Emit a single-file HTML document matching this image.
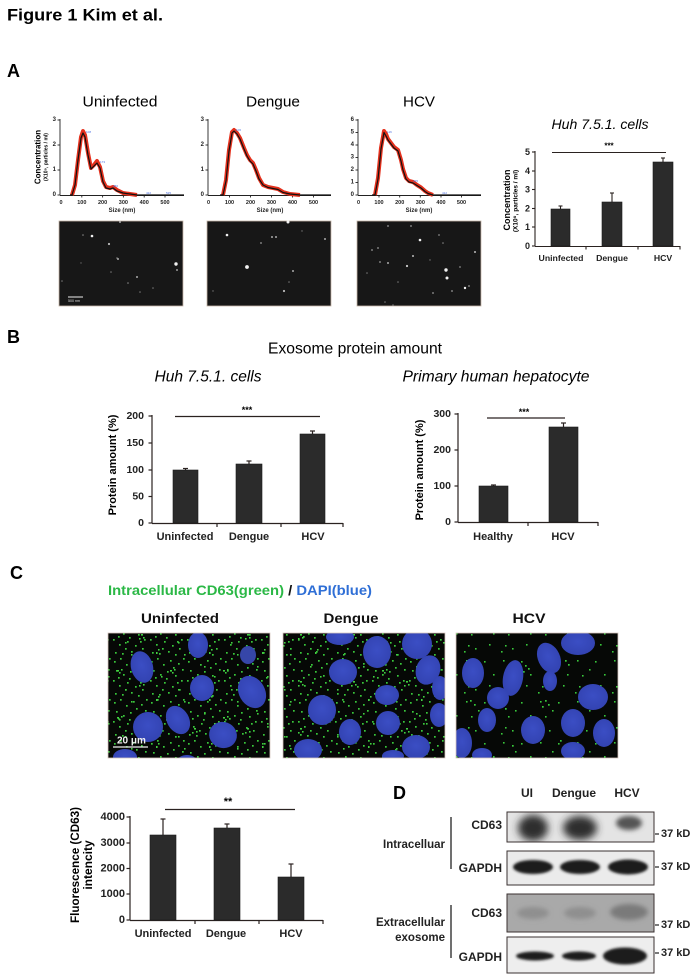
<!DOCTYPE html>
<html>
<head>
<meta charset="utf-8">
<style>
  html,body{margin:0;padding:0;background:#fff;}
  svg{display:block;}
  text{font-family:"Liberation Sans",Arial,sans-serif;}
</style>
</head>
<body>
<svg width="700" height="980" viewBox="0 0 700 980" xmlns="http://www.w3.org/2000/svg">
<defs>
  <pattern id="gd" x="0" y="0" width="37" height="41" patternUnits="userSpaceOnUse">
    <g fill="#38c83a">
      <rect x="3" y="5" width="1.7" height="1.7"/><rect x="9" y="2" width="1.7" height="1.7"/>
      <rect x="15" y="8" width="1.7" height="1.7"/><rect x="22" y="4" width="1.7" height="1.7"/>
      <rect x="30" y="7" width="1.7" height="1.7"/><rect x="34" y="13" width="1.7" height="1.7"/>
      <rect x="5" y="14" width="1.7" height="1.7"/><rect x="12" y="18" width="1.7" height="1.7"/>
      <rect x="19" y="15" width="1.7" height="1.7"/><rect x="27" y="19" width="1.7" height="1.7"/>
      <rect x="33" y="24" width="1.7" height="1.7"/><rect x="2" y="24" width="1.7" height="1.7"/>
      <rect x="8" y="29" width="1.7" height="1.7"/><rect x="16" y="26" width="1.7" height="1.7"/>
      <rect x="24" y="30" width="1.7" height="1.7"/><rect x="31" y="33" width="1.7" height="1.7"/>
      <rect x="4" y="37" width="1.7" height="1.7"/><rect x="11" y="38" width="1.7" height="1.7"/>
      <rect x="20" y="36" width="1.7" height="1.7"/><rect x="27" y="39" width="1.7" height="1.7"/>
      <rect x="35" y="2" width="1.7" height="1.7"/><rect x="14" y="33" width="1.7" height="1.7"/>
      <rect x="25" y="11" width="1.7" height="1.7"/><rect x="7" y="21" width="1.7" height="1.7"/>
      <rect x="18" y="22" width="1.7" height="1.7"/><rect x="29" y="26" width="1.7" height="1.7"/>
    </g>
  </pattern>
  <pattern id="gd2" x="5" y="3" width="53" height="47" patternUnits="userSpaceOnUse">
    <g fill="#40d040">
      <rect x="6" y="9" width="2" height="1.6"/><rect x="8" y="11" width="1.6" height="1.6"/>
      <rect x="10" y="8" width="1.6" height="1.6"/><rect x="30" y="20" width="2" height="1.6"/>
      <rect x="32" y="23" width="1.6" height="1.6"/><rect x="28" y="24" width="1.6" height="1.6"/>
      <rect x="45" y="38" width="1.6" height="2"/><rect x="47" y="35" width="1.6" height="1.6"/>
      <rect x="20" y="40" width="1.6" height="1.6"/><rect x="40" y="5" width="1.6" height="1.6"/>
      <rect x="14" y="28" width="1.6" height="1.6"/><rect x="50" y="15" width="1.6" height="1.6"/>
    </g>
  </pattern>
  <pattern id="gs" x="0" y="0" width="37" height="41" patternUnits="userSpaceOnUse">
    <g fill="#38c83a">
      <rect x="3" y="5" width="1.6" height="1.6"/><rect x="22" y="4" width="1.6" height="1.6"/>
      <rect x="34" y="13" width="1.6" height="1.6"/><rect x="12" y="18" width="1.6" height="1.6"/>
      <rect x="27" y="19" width="1.6" height="1.6"/><rect x="8" y="29" width="1.6" height="1.6"/>
      <rect x="24" y="30" width="1.6" height="1.6"/><rect x="20" y="36" width="1.6" height="1.6"/>
      <rect x="31" y="33" width="1.6" height="1.6"/>
    </g>
  </pattern>
  <radialGradient id="nuc" cx="50%" cy="45%" r="60%">
    <stop offset="0" stop-color="#3b4ec4"/>
    <stop offset="1" stop-color="#3242b0"/>
  </radialGradient>
  <filter id="blur1" x="-30%" y="-60%" width="160%" height="220%"><feGaussianBlur stdDeviation="2.5"/></filter>
  <filter id="blur2" x="-30%" y="-60%" width="160%" height="220%"><feGaussianBlur stdDeviation="1.2"/></filter>
  <filter id="blur3" x="-30%" y="-60%" width="160%" height="220%"><feGaussianBlur stdDeviation="4"/></filter>
</defs>

<!-- Figure title -->
<text x="7" y="15" font-size="17" font-weight="bold" dominant-baseline="central" textLength="156" lengthAdjust="spacingAndGlyphs">Figure 1 Kim et al.</text>

<!-- ============ PANEL A ============ -->
<text x="7" y="71" font-size="18" font-weight="bold" dominant-baseline="central">A</text>

<text x="120" y="102" font-size="15" text-anchor="middle" dominant-baseline="central" textLength="75" lengthAdjust="spacingAndGlyphs">Uninfected</text>
<text x="273" y="102" font-size="15" text-anchor="middle" dominant-baseline="central" textLength="54" lengthAdjust="spacingAndGlyphs">Dengue</text>
<text x="419" y="102" font-size="15" text-anchor="middle" dominant-baseline="central" textLength="32" lengthAdjust="spacingAndGlyphs">HCV</text>

<!-- Plot 1 -->
<g stroke="#222" stroke-width="0.9" fill="none">
  <line x1="60" y1="119" x2="60" y2="195.5"/>
  <line x1="60" y1="195.5" x2="184" y2="195.5"/>
  <line x1="57.5" y1="120" x2="60" y2="120"/><line x1="57.5" y1="145" x2="60" y2="145"/>
  <line x1="57.5" y1="170" x2="60" y2="170"/><line x1="57.5" y1="195" x2="60" y2="195"/>
  <line x1="81.8" y1="195" x2="81.8" y2="197.5"/><line x1="102.6" y1="195" x2="102.6" y2="197.5"/>
  <line x1="123.4" y1="195" x2="123.4" y2="197.5"/><line x1="144.2" y1="195" x2="144.2" y2="197.5"/>
  <line x1="165" y1="195" x2="165" y2="197.5"/>
</g>
<g font-size="6" font-weight="bold" fill="#222" text-anchor="end" dominant-baseline="central">
  <text x="56" y="120">3</text><text x="56" y="145">2</text><text x="56" y="170">1</text><text x="56" y="195">0</text>
</g>
<g font-size="5.5" font-weight="bold" fill="#222" text-anchor="middle" dominant-baseline="central">
  <text x="61" y="203">0</text><text x="81.8" y="203">100</text><text x="102.6" y="203">200</text>
  <text x="123.4" y="203">300</text><text x="144.2" y="203">400</text><text x="165" y="203">500</text>
  <text x="122" y="211" font-size="6">Size (nm)</text>
</g>
<text x="38" y="157" font-size="8" font-weight="bold" text-anchor="middle" dominant-baseline="central" transform="rotate(-90 38 157)">Concentration</text>
<text x="46.5" y="157" font-size="5" font-weight="bold" text-anchor="middle" dominant-baseline="central" transform="rotate(-90 46.5 157)">(X10⁹, particles / ml)</text>
<polyline fill="none" stroke="#e4301c" stroke-width="4" stroke-linejoin="round" points="72,195 75,185 78,160 81,137 83,131 85,135 88,153 91,168 94,165 97,161 100,167 103,181 106,187 110,188 113,187 117,190 123,193 130,194 137,195"/>
<polyline fill="none" stroke="#111" stroke-width="1.2" stroke-linejoin="round" points="70,195 72,195 75,185 78,160 81,138 83,133 85,137 88,155 91,169 94,166 97,163 100,168 103,182 106,188 110,189 113,188 117,191 123,193 130,194 137,195 184,195"/>
<g font-size="3" fill="#4a6ee0"><text x="86" y="133">108</text><text x="100" y="163">173</text><text x="113" y="187">256</text><text x="146" y="194">422</text><text x="166" y="194">525</text></g>

<!-- Plot 2 -->
<g stroke="#222" stroke-width="0.9" fill="none">
  <line x1="208" y1="119" x2="208" y2="195.5"/>
  <line x1="208" y1="195.5" x2="331" y2="195.5"/>
  <line x1="205.5" y1="120" x2="208" y2="120"/><line x1="205.5" y1="145" x2="208" y2="145"/>
  <line x1="205.5" y1="170" x2="208" y2="170"/><line x1="205.5" y1="195" x2="208" y2="195"/>
  <line x1="229.5" y1="195" x2="229.5" y2="197.5"/><line x1="250.5" y1="195" x2="250.5" y2="197.5"/>
  <line x1="271.5" y1="195" x2="271.5" y2="197.5"/><line x1="292.5" y1="195" x2="292.5" y2="197.5"/>
  <line x1="313.5" y1="195" x2="313.5" y2="197.5"/>
</g>
<g font-size="6" font-weight="bold" fill="#222" text-anchor="end" dominant-baseline="central">
  <text x="204" y="120">3</text><text x="204" y="145">2</text><text x="204" y="170">1</text><text x="204" y="195">0</text>
</g>
<g font-size="5.5" font-weight="bold" fill="#222" text-anchor="middle" dominant-baseline="central">
  <text x="208.5" y="203">0</text><text x="229.5" y="203">100</text><text x="250.5" y="203">200</text>
  <text x="271.5" y="203">300</text><text x="292.5" y="203">400</text><text x="313.5" y="203">500</text>
  <text x="270" y="211" font-size="6">Size (nm)</text>
</g>
<polyline fill="none" stroke="#e4301c" stroke-width="4" stroke-linejoin="round" points="223,195 226,180 229,150 232,132 234,130 237,133 240,138 244,148 247,155 250,160 253,163 256,170 259,178 263,185 268,187 273,188 278,189 283,192 290,194 300,195"/>
<polyline fill="none" stroke="#111" stroke-width="1.2" stroke-linejoin="round" points="220,195 223,195 226,181 229,151 232,133 234,131 237,134 240,139 244,149 247,156 250,161 253,164 256,171 259,179 263,185 268,187.5 273,188.5 278,189.5 283,192.5 290,194 300,195 331,195"/>
<g font-size="3" fill="#4a6ee0"><text x="236" y="131">106</text></g>

<!-- Plot 3 -->
<g stroke="#222" stroke-width="0.9" fill="none">
  <line x1="358" y1="119" x2="358" y2="195.5"/>
  <line x1="358" y1="195.5" x2="481" y2="195.5"/>
  <line x1="355.5" y1="120" x2="358" y2="120"/><line x1="355.5" y1="132.5" x2="358" y2="132.5"/>
  <line x1="355.5" y1="145" x2="358" y2="145"/><line x1="355.5" y1="157.5" x2="358" y2="157.5"/>
  <line x1="355.5" y1="170" x2="358" y2="170"/><line x1="355.5" y1="182.5" x2="358" y2="182.5"/>
  <line x1="355.5" y1="195" x2="358" y2="195"/>
  <line x1="379" y1="195" x2="379" y2="197.5"/><line x1="399.7" y1="195" x2="399.7" y2="197.5"/>
  <line x1="420.3" y1="195" x2="420.3" y2="197.5"/><line x1="441" y1="195" x2="441" y2="197.5"/>
  <line x1="461.5" y1="195" x2="461.5" y2="197.5"/>
</g>
<g font-size="6" font-weight="bold" fill="#222" text-anchor="end" dominant-baseline="central">
  <text x="354" y="120">6</text><text x="354" y="132.5">5</text><text x="354" y="145">4</text><text x="354" y="157.5">3</text>
  <text x="354" y="170">2</text><text x="354" y="182.5">1</text><text x="354" y="195">0</text>
</g>
<g font-size="5.5" font-weight="bold" fill="#222" text-anchor="middle" dominant-baseline="central">
  <text x="358.5" y="203">0</text><text x="379" y="203">100</text><text x="399.7" y="203">200</text>
  <text x="420.3" y="203">300</text><text x="441" y="203">400</text><text x="461.5" y="203">500</text>
  <text x="419" y="211" font-size="6">Size (nm)</text>
</g>
<polyline fill="none" stroke="#e4301c" stroke-width="4" stroke-linejoin="round" points="375,195 378,178 381,148 384,131 386,134 388,139 391,143 394,147 398,150 401,160 403,169 406,178 409,181 413,182 417,185 421,187.5 425,191 428,193 433,195"/>
<polyline fill="none" stroke="#111" stroke-width="1.2" stroke-linejoin="round" points="372,195 375,195 378,179 381,149 384,132.5 386,136 388,140 391,144 394,148 398,151 401,161 403,170 406,179 409,182 413,183 417,185.5 421,188 425,191.5 428,193.5 433,195 481,195"/>
<g font-size="3" fill="#4a6ee0"><text x="387" y="133">116</text><text x="413" y="182">235</text><text x="442" y="194">412</text></g>

<!-- A images -->
<rect x="59" y="221" width="124" height="85" fill="#171717" stroke="#c8b8aa" stroke-width="0.8"/>
<rect x="207" y="221" width="124" height="85" fill="#171717" stroke="#c8b8aa" stroke-width="0.8"/>
<rect x="357" y="221" width="124" height="85" fill="#171717" stroke="#c8b8aa" stroke-width="0.8"/>
<g fill="#f2f2f2">
  <circle cx="92" cy="236" r="1.3"/><circle cx="109" cy="244" r="1.1" fill="#bbb"/><circle cx="118" cy="259" r="1" fill="#aaa"/>
  <circle cx="176" cy="264" r="1.7"/><circle cx="177" cy="270" r="1" fill="#999"/><circle cx="137" cy="277" r="1" fill="#aaa"/>
  <circle cx="83" cy="235" r="0.8" fill="#888"/><circle cx="120" cy="222" r="1" fill="#aaa"/><circle cx="140" cy="292" r="0.8" fill="#777"/>
  <circle cx="153" cy="288" r="0.8" fill="#777"/><circle cx="128" cy="283" r="0.8" fill="#888"/><circle cx="62" cy="281" r="0.8" fill="#777"/>
  <circle cx="81" cy="263" r="0.7" fill="#666"/><circle cx="111" cy="272" r="0.8" fill="#777"/><circle cx="117" cy="258" r="0.8" fill="#888"/>
  <circle cx="227" cy="235" r="1.3"/><circle cx="247" cy="267" r="1.9"/><circle cx="288" cy="222" r="1.5"/>
  <circle cx="272" cy="237" r="1" fill="#aaa"/><circle cx="276" cy="237" r="1" fill="#aaa"/><circle cx="261" cy="243" r="0.9" fill="#999"/>
  <circle cx="293" cy="271" r="1" fill="#aaa"/><circle cx="284" cy="291" r="1.1" fill="#bbb"/><circle cx="325" cy="239" r="1" fill="#aaa"/>
  <circle cx="302" cy="231" r="0.7" fill="#777"/><circle cx="289" cy="282" r="0.8" fill="#777"/><circle cx="213" cy="291" r="0.7" fill="#777"/>
  <circle cx="420" cy="240" r="1.3"/><circle cx="446" cy="270" r="1.7"/><circle cx="447" cy="278" r="1.5"/>
  <circle cx="465" cy="288" r="1.2"/><circle cx="407" cy="266" r="1.1" fill="#ccc"/><circle cx="413" cy="256" r="1" fill="#bbb"/>
  <circle cx="475" cy="252" r="1" fill="#bbb"/><circle cx="388" cy="263" r="1" fill="#aaa"/><circle cx="380" cy="262" r="0.9" fill="#999"/>
  <circle cx="372" cy="250" r="0.9" fill="#999"/><circle cx="378" cy="248" r="0.9" fill="#999"/><circle cx="388" cy="226" r="0.9" fill="#999"/>
  <circle cx="411" cy="226" r="0.9" fill="#999"/><circle cx="439" cy="235" r="0.9" fill="#888"/><circle cx="433" cy="293" r="0.9" fill="#999"/>
  <circle cx="452" cy="291" r="0.9" fill="#999"/><circle cx="469" cy="286" r="0.9" fill="#999"/><circle cx="460" cy="267" r="0.9" fill="#888"/>
  <circle cx="367" cy="273" r="0.8" fill="#777"/><circle cx="385" cy="302" r="0.8" fill="#777"/><circle cx="393" cy="305" r="0.8" fill="#777"/>
  <circle cx="443" cy="243" r="0.8" fill="#888"/><circle cx="398" cy="282" r="0.8" fill="#777"/><circle cx="430" cy="260" r="0.7" fill="#777"/>
</g>
<line x1="68" y1="297" x2="83" y2="297" stroke="#eee" stroke-width="1"/>
<text x="68" y="302" font-size="3.6" fill="#ddd">500 nm</text>

<!-- A right chart -->
<text x="600" y="124" font-size="14" font-style="italic" text-anchor="middle" dominant-baseline="central" textLength="97" lengthAdjust="spacingAndGlyphs">Huh 7.5.1. cells</text>
<text x="507" y="200" font-size="9" font-weight="bold" text-anchor="middle" dominant-baseline="central" transform="rotate(-90 507 200)">Concentration</text>
<text x="516" y="201" font-size="6.5" font-weight="bold" text-anchor="middle" dominant-baseline="central" transform="rotate(-90 516 201)">(X10⁹, particles / ml)</text>
<g stroke="#2a2220" stroke-width="1.1" fill="none">
  <line x1="535" y1="151" x2="535" y2="246.5"/>
  <line x1="535" y1="246.5" x2="680" y2="246.5"/>
  <line x1="532" y1="152" x2="535" y2="152"/><line x1="532" y1="171" x2="535" y2="171"/>
  <line x1="532" y1="189.5" x2="535" y2="189.5"/><line x1="532" y1="208.5" x2="535" y2="208.5"/>
  <line x1="532" y1="227" x2="535" y2="227"/><line x1="532" y1="246" x2="535" y2="246"/>
  <line x1="586" y1="246" x2="586" y2="249.5"/><line x1="638" y1="246" x2="638" y2="249.5"/><line x1="680" y1="246" x2="680" y2="249.5"/>
  <line x1="560.5" y1="209" x2="560.5" y2="206"/><line x1="558.5" y1="206" x2="562.5" y2="206"/>
  <line x1="612" y1="202" x2="612" y2="193"/><line x1="610" y1="193" x2="614" y2="193"/>
  <line x1="663" y1="162" x2="663" y2="158"/><line x1="661" y1="158" x2="665" y2="158"/>
  <line x1="552" y1="152.5" x2="666" y2="152.5"/>
</g>
<g fill="#2b2b2b" stroke="#1a1a1a" stroke-width="0.6">
  <rect x="551" y="209" width="19" height="37"/>
  <rect x="602" y="202" width="20" height="44"/>
  <rect x="653" y="162" width="20" height="84"/>
</g>
<g font-size="9" font-weight="bold" fill="#222" text-anchor="end" dominant-baseline="central">
  <text x="530" y="152">5</text><text x="530" y="171">4</text><text x="530" y="189.5">3</text>
  <text x="530" y="208.5">2</text><text x="530" y="227">1</text><text x="530" y="246">0</text>
</g>
<text x="609" y="146" font-size="8" font-weight="bold" text-anchor="middle" dominant-baseline="central">***</text>
<g font-size="8.7" font-weight="bold" fill="#222" text-anchor="middle" dominant-baseline="central">
  <text x="561" y="258">Uninfected</text><text x="612" y="258">Dengue</text><text x="663" y="258">HCV</text>
</g>

<!-- ============ PANEL B ============ -->
<text x="7" y="337" font-size="18" font-weight="bold" dominant-baseline="central">B</text>
<text x="355" y="349" font-size="16" text-anchor="middle" dominant-baseline="central" textLength="174" lengthAdjust="spacingAndGlyphs">Exosome protein amount</text>
<text x="208" y="377" font-size="16" font-style="italic" text-anchor="middle" dominant-baseline="central" textLength="107" lengthAdjust="spacingAndGlyphs">Huh 7.5.1. cells</text>
<text x="496" y="377" font-size="16" font-style="italic" text-anchor="middle" dominant-baseline="central" textLength="187" lengthAdjust="spacingAndGlyphs">Primary human hepatocyte</text>

<!-- B1 -->
<text x="113" y="465" font-size="11" font-weight="bold" text-anchor="middle" dominant-baseline="central" transform="rotate(-90 113 465)">Protein amount (%)</text>
<g stroke="#2a2220" stroke-width="1.2" fill="none">
  <line x1="152" y1="415" x2="152" y2="523.5"/>
  <line x1="152" y1="523.5" x2="343" y2="523.5"/>
  <line x1="148.5" y1="416" x2="152" y2="416"/><line x1="148.5" y1="443" x2="152" y2="443"/>
  <line x1="148.5" y1="470" x2="152" y2="470"/><line x1="148.5" y1="496.5" x2="152" y2="496.5"/>
  <line x1="148.5" y1="523" x2="152" y2="523"/>
  <line x1="217" y1="523" x2="217" y2="527"/><line x1="281" y1="523" x2="281" y2="527"/><line x1="343" y1="523" x2="343" y2="527"/>
  <line x1="185.5" y1="470" x2="185.5" y2="468.5"/><line x1="183" y1="468.5" x2="188" y2="468.5"/>
  <line x1="249" y1="464" x2="249" y2="461"/><line x1="246.5" y1="461" x2="251.5" y2="461"/>
  <line x1="312.5" y1="434" x2="312.5" y2="431"/><line x1="310" y1="431" x2="315" y2="431"/>
  <line x1="175" y1="416.5" x2="320" y2="416.5"/>
</g>
<g fill="#2b2b2b" stroke="#1a1a1a" stroke-width="0.6">
  <rect x="173" y="470" width="25" height="53"/>
  <rect x="236" y="464" width="26" height="59"/>
  <rect x="300" y="434" width="25" height="89"/>
</g>
<g font-size="10.5" font-weight="bold" fill="#222" text-anchor="end" dominant-baseline="central">
  <text x="144" y="416">200</text><text x="144" y="443">150</text><text x="144" y="470">100</text>
  <text x="144" y="496.5">50</text><text x="144" y="523">0</text>
</g>
<text x="247" y="410" font-size="9" font-weight="bold" text-anchor="middle" dominant-baseline="central">***</text>
<g font-size="11" font-weight="bold" fill="#222" text-anchor="middle" dominant-baseline="central">
  <text x="185" y="537">Uninfected</text><text x="249" y="537">Dengue</text><text x="313" y="537">HCV</text>
</g>

<!-- B2 -->
<text x="420" y="470" font-size="11" font-weight="bold" text-anchor="middle" dominant-baseline="central" transform="rotate(-90 420 470)">Protein amount (%)</text>
<g stroke="#2a2220" stroke-width="1.2" fill="none">
  <line x1="458" y1="413" x2="458" y2="522.5"/>
  <line x1="458" y1="522.5" x2="598" y2="522.5"/>
  <line x1="454.5" y1="414" x2="458" y2="414"/><line x1="454.5" y1="450" x2="458" y2="450"/>
  <line x1="454.5" y1="486" x2="458" y2="486"/><line x1="454.5" y1="522" x2="458" y2="522"/>
  <line x1="528" y1="522" x2="528" y2="526"/><line x1="598" y1="522" x2="598" y2="526"/>
  <line x1="493.5" y1="486" x2="493.5" y2="485"/><line x1="491" y1="485" x2="496" y2="485"/>
  <line x1="563.5" y1="427" x2="563.5" y2="423"/><line x1="561" y1="423" x2="566" y2="423"/>
  <line x1="487" y1="418" x2="565" y2="418"/>
</g>
<g fill="#2b2b2b" stroke="#1a1a1a" stroke-width="0.6">
  <rect x="479" y="486" width="29" height="36"/>
  <rect x="549" y="427" width="29" height="95"/>
</g>
<g font-size="10.5" font-weight="bold" fill="#222" text-anchor="end" dominant-baseline="central">
  <text x="451" y="414">300</text><text x="451" y="450">200</text><text x="451" y="486">100</text><text x="451" y="522">0</text>
</g>
<text x="524" y="412" font-size="9" font-weight="bold" text-anchor="middle" dominant-baseline="central">***</text>
<g font-size="11" font-weight="bold" fill="#222" text-anchor="middle" dominant-baseline="central">
  <text x="493" y="537">Healthy</text><text x="563" y="537">HCV</text>
</g>

<!-- ============ PANEL C ============ -->
<text x="10" y="573" font-size="18" font-weight="bold" dominant-baseline="central">C</text>
<text x="108" y="590" font-size="14" font-weight="bold" dominant-baseline="central" textLength="264" lengthAdjust="spacingAndGlyphs"><tspan fill="#2bb846">Intracellular CD63(green)</tspan><tspan fill="#111"> / </tspan><tspan fill="#2f6fd6">DAPI(blue)</tspan></text>
<g font-size="14" font-weight="bold" fill="#111" text-anchor="middle" dominant-baseline="central">
  <text x="180" y="618" textLength="78" lengthAdjust="spacingAndGlyphs">Uninfected</text>
  <text x="351" y="618" textLength="55" lengthAdjust="spacingAndGlyphs">Dengue</text>
  <text x="529" y="618" textLength="33" lengthAdjust="spacingAndGlyphs">HCV</text>
</g>

<!-- C image 1 -->
<svg x="108" y="633" width="162" height="125" viewBox="108 633 162 125">
  <rect x="108" y="633" width="162" height="125" fill="#060806"/>
  <rect x="108" y="633" width="162" height="125" fill="url(#gd)"/>
  <rect x="108" y="633" width="162" height="125" fill="url(#gd2)"/>
  <g fill="url(#nuc)">
    <ellipse cx="198" cy="645" rx="10" ry="13"/>
    <ellipse cx="142" cy="667" rx="11" ry="16" transform="rotate(-15 142 667)"/>
    <ellipse cx="248" cy="655" rx="8" ry="9" fill="#3646a8"/>
    <ellipse cx="202" cy="688" rx="12" ry="13"/>
    <ellipse cx="252" cy="692" rx="13" ry="17" transform="rotate(-30 252 692)"/>
    <ellipse cx="178" cy="720" rx="11" ry="15" transform="rotate(-30 178 720)"/>
    <ellipse cx="148" cy="727" rx="15" ry="15"/>
    <ellipse cx="223" cy="735" rx="14" ry="13" transform="rotate(20 223 735)"/>
    <ellipse cx="125" cy="757" rx="12" ry="8"/>
    <ellipse cx="187" cy="760" rx="9" ry="5"/>
  </g>
  <line x1="113" y1="747" x2="148" y2="747" stroke="#eee" stroke-width="1.3"/>
  <text x="117" y="741" font-size="10" font-weight="bold" fill="#f2f2f2" dominant-baseline="central">20 μm</text>
</svg>
<rect x="108" y="633" width="162" height="125" fill="none" stroke="#d8c8c0" stroke-width="0.8"/>

<!-- C image 2 -->
<svg x="283" y="633" width="162" height="125" viewBox="283 633 162 125">
  <rect x="283" y="633" width="162" height="125" fill="#060806"/>
  <rect x="283" y="633" width="162" height="125" fill="url(#gd)"/>
  <rect x="283" y="633" width="162" height="125" fill="url(#gd2)"/>
  <g fill="url(#nuc)">
    <ellipse cx="340" cy="637" rx="14" ry="8"/>
    <ellipse cx="377" cy="652" rx="14" ry="16"/>
    <ellipse cx="343" cy="672" rx="14" ry="13"/>
    <ellipse cx="322" cy="710" rx="14" ry="15"/>
    <ellipse cx="387" cy="695" rx="12" ry="10"/>
    <ellipse cx="388" cy="723" rx="12" ry="12"/>
    <ellipse cx="350" cy="732" rx="11" ry="13"/>
    <ellipse cx="308" cy="750" rx="14" ry="11"/>
    <ellipse cx="393" cy="756" rx="11" ry="6"/>
    <ellipse cx="417" cy="644" rx="15" ry="15"/>
    <ellipse cx="428" cy="670" rx="12" ry="15" transform="rotate(20 428 670)"/>
    <ellipse cx="440" cy="688" rx="8" ry="12"/>
    <ellipse cx="439" cy="715" rx="9" ry="12"/>
    <ellipse cx="416" cy="747" rx="14" ry="12"/>
  </g>
</svg>
<rect x="283" y="633" width="162" height="125" fill="none" stroke="#d8c8c0" stroke-width="0.8"/>

<!-- C image 3 -->
<svg x="456" y="633" width="162" height="125" viewBox="456 633 162 125">
  <rect x="456" y="633" width="162" height="125" fill="#060806"/>
  <rect x="456" y="633" width="162" height="125" fill="url(#gs)"/>
  <g fill="#38c83a">
    <rect x="525" y="665" width="1.7" height="1.7"/><rect x="528" y="668" width="1.7" height="1.7"/><rect x="523" y="671" width="1.7" height="1.7"/>
    <rect x="565" y="660" width="1.7" height="1.7"/><rect x="568" y="664" width="1.7" height="1.7"/>
    <rect x="545" y="700" width="1.7" height="1.7"/><rect x="548" y="704" width="1.7" height="1.7"/><rect x="542" y="706" width="1.7" height="1.7"/>
    <rect x="470" y="700" width="1.7" height="1.7"/><rect x="474" y="704" width="1.7" height="1.7"/>
    <rect x="560" y="740" width="1.7" height="1.7"/><rect x="512" y="745" width="1.7" height="1.7"/><rect x="505" y="708" width="1.7" height="1.7"/>
  </g>
  <g fill="url(#nuc)">
    <ellipse cx="578" cy="643" rx="17" ry="12"/>
    <ellipse cx="549" cy="658" rx="11" ry="16" transform="rotate(-25 549 658)"/>
    <ellipse cx="513" cy="678" rx="10" ry="18" transform="rotate(10 513 678)"/>
    <ellipse cx="473" cy="673" rx="11" ry="15"/>
    <ellipse cx="550" cy="681" rx="7" ry="10"/>
    <ellipse cx="498" cy="698" rx="11" ry="11"/>
    <ellipse cx="593" cy="697" rx="15" ry="13"/>
    <ellipse cx="487" cy="720" rx="9" ry="12"/>
    <ellipse cx="533" cy="730" rx="12" ry="14"/>
    <ellipse cx="573" cy="723" rx="12" ry="14"/>
    <ellipse cx="604" cy="733" rx="11" ry="14"/>
    <ellipse cx="462" cy="743" rx="10" ry="15"/>
    <ellipse cx="482" cy="755" rx="10" ry="7"/>
    <ellipse cx="573" cy="751" rx="12" ry="9"/>
  </g>
</svg>
<rect x="456" y="633" width="162" height="125" fill="none" stroke="#d8c8c0" stroke-width="0.8"/>

<!-- C chart -->
<text x="75" y="865" font-size="12" font-weight="bold" text-anchor="middle" dominant-baseline="central" transform="rotate(-90 75 865)" textLength="116" lengthAdjust="spacingAndGlyphs">Fluorescence  (CD63)</text>
<text x="88" y="865" font-size="12" font-weight="bold" text-anchor="middle" dominant-baseline="central" transform="rotate(-90 88 865)">intencity</text>
<g stroke="#2a2220" stroke-width="1.2" fill="none">
  <line x1="130" y1="816" x2="130" y2="920.5"/>
  <line x1="130" y1="920.5" x2="323" y2="920.5"/>
  <line x1="126.5" y1="817" x2="130" y2="817"/><line x1="126.5" y1="843" x2="130" y2="843"/>
  <line x1="126.5" y1="868.5" x2="130" y2="868.5"/><line x1="126.5" y1="894" x2="130" y2="894"/>
  <line x1="126.5" y1="920" x2="130" y2="920"/>
  <line x1="195" y1="920" x2="195" y2="924"/><line x1="259" y1="920" x2="259" y2="924"/><line x1="323" y1="920" x2="323" y2="924"/>
  <line x1="163" y1="835" x2="163" y2="819"/><line x1="160.5" y1="819" x2="165.5" y2="819"/>
  <line x1="227" y1="828" x2="227" y2="824"/><line x1="224.5" y1="824" x2="229.5" y2="824"/>
  <line x1="291" y1="877" x2="291" y2="864"/><line x1="288.5" y1="864" x2="293.5" y2="864"/>
  <line x1="165" y1="809.5" x2="295" y2="809.5"/>
</g>
<g fill="#2b2b2b" stroke="#1a1a1a" stroke-width="0.6">
  <rect x="150" y="835" width="26" height="85"/>
  <rect x="214" y="828" width="26" height="92"/>
  <rect x="278" y="877" width="26" height="43"/>
</g>
<g font-size="11" font-weight="bold" fill="#222" text-anchor="end" dominant-baseline="central">
  <text x="125" y="817">4000</text><text x="125" y="843">3000</text><text x="125" y="868.5">2000</text>
  <text x="125" y="894">1000</text><text x="125" y="920">0</text>
</g>
<text x="228" y="802" font-size="11" font-weight="bold" text-anchor="middle" dominant-baseline="central">**</text>
<g font-size="11" font-weight="bold" fill="#222" text-anchor="middle" dominant-baseline="central">
  <text x="163" y="934">Uninfected</text><text x="226" y="934">Dengue</text><text x="291" y="934">HCV</text>
</g>

<!-- ============ PANEL D ============ -->
<text x="393" y="793" font-size="18" font-weight="bold" dominant-baseline="central">D</text>
<g font-size="12" font-weight="bold" fill="#222" text-anchor="middle" dominant-baseline="central">
  <text x="527" y="793">UI</text><text x="574" y="793">Dengue</text><text x="627" y="793">HCV</text>
</g>
<g font-size="12" font-weight="bold" fill="#222" text-anchor="end" dominant-baseline="central">
  <text x="502" y="825">CD63</text><text x="502" y="868">GAPDH</text>
  <text x="502" y="913">CD63</text><text x="502" y="957">GAPDH</text>
  <text x="445" y="845" font-size="11.5">Intracelluar</text>
  <text x="445" y="923" font-size="11.5">Extracellular</text>
  <text x="445" y="938" font-size="11.5">exosome</text>
</g>
<g stroke="#222" stroke-width="1.3">
  <line x1="451" y1="817" x2="451" y2="869"/>
  <line x1="451" y1="905" x2="451" y2="958"/>
</g>

<!-- Blot row 1 -->
<svg x="507" y="812" width="147" height="30" viewBox="507 812 147 30">
  <rect x="507" y="812" width="147" height="30" fill="#e4e4e4"/>
  <g fill="#2e2e2e" filter="url(#blur3)">
    <ellipse cx="533" cy="828" rx="15" ry="13"/>
    <ellipse cx="580" cy="828" rx="17" ry="12"/>
  </g>
  <ellipse cx="629" cy="823" rx="13" ry="7" fill="#555" filter="url(#blur1)"/>
</svg>
<rect x="507" y="812" width="147" height="30" fill="none" stroke="#3a3030" stroke-width="1"/>
<!-- Blot row 2 -->
<svg x="507" y="851" width="147" height="34" viewBox="507 851 147 34">
  <rect x="507" y="851" width="147" height="34" fill="#ebebeb"/>
  <g fill="#1e1e1e" filter="url(#blur2)">
    <ellipse cx="533" cy="867" rx="20" ry="7"/>
    <ellipse cx="580" cy="867" rx="20" ry="7"/>
    <ellipse cx="628" cy="867" rx="20" ry="7.5"/>
  </g>
</svg>
<rect x="507" y="851" width="147" height="34" fill="none" stroke="#3a3030" stroke-width="1"/>
<!-- Blot row 3 -->
<svg x="507" y="894" width="147" height="38" viewBox="507 894 147 38">
  <rect x="507" y="894" width="147" height="38" fill="#a9a9a9"/>
  <g fill="#8f8f8f" filter="url(#blur1)">
    <ellipse cx="533" cy="913" rx="16" ry="6"/>
    <ellipse cx="580" cy="913" rx="16" ry="6"/>
  </g>
  <ellipse cx="629" cy="912" rx="19" ry="8" fill="#7a7a7a" filter="url(#blur1)"/>
</svg>
<rect x="507" y="894" width="147" height="38" fill="none" stroke="#3a3030" stroke-width="1"/>
<!-- Blot row 4 -->
<svg x="507" y="937" width="147" height="36" viewBox="507 937 147 36">
  <rect x="507" y="937" width="147" height="36" fill="#eeeeee"/>
  <g fill="#1a1a1a" filter="url(#blur2)">
    <ellipse cx="535" cy="956" rx="19" ry="4.5"/>
    <ellipse cx="579" cy="956" rx="17" ry="4.5"/>
    <ellipse cx="625" cy="956" rx="22" ry="8.5"/>
  </g>
</svg>
<rect x="507" y="937" width="147" height="36" fill="none" stroke="#3a3030" stroke-width="1"/>

<g font-size="11" font-weight="bold" fill="#222" dominant-baseline="central">
  <text x="661" y="834">37 kD</text><text x="661" y="867">37 kD</text>
  <text x="661" y="925">37 kD</text><text x="661" y="953">37 kD</text>
</g>
<g stroke="#222" stroke-width="1.2">
  <line x1="655" y1="834" x2="659" y2="834"/><line x1="655" y1="867" x2="659" y2="867"/>
  <line x1="655" y1="925" x2="659" y2="925"/><line x1="655" y1="953" x2="659" y2="953"/>
</g>
</svg>
</body>
</html>
